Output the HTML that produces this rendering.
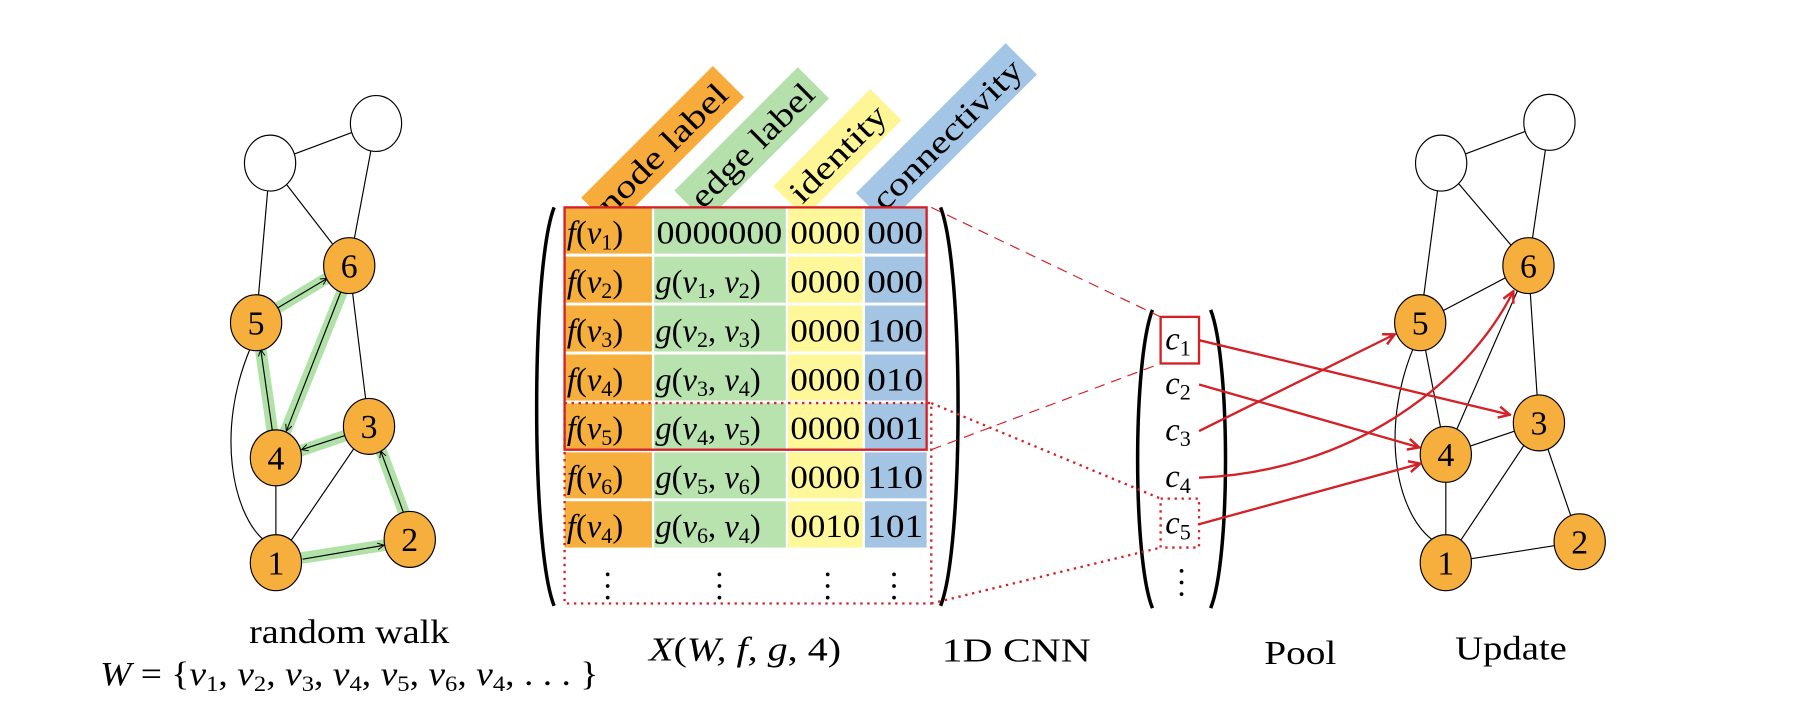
<!DOCTYPE html>
<html><head><meta charset="utf-8"><style>
html,body{margin:0;padding:0;background:#fff}
svg{display:block}
text{font-family:"Liberation Serif",serif;fill:#000}
.m{font-style:italic}
</style></head><body>
<svg width="1816" height="706" viewBox="0 0 1560 606" preserveAspectRatio="none" xmlns="http://www.w3.org/2000/svg">
<defs>
<marker id="ak" viewBox="0 0 10 10" refX="9" refY="5" markerWidth="7" markerHeight="7" orient="auto"><path d="M1,1 L9,5 L1,9" fill="none" stroke="#000" stroke-width="1.2"/></marker>
<marker id="ar" viewBox="0 0 10 10" refX="9" refY="5" markerWidth="6" markerHeight="6" orient="auto"><path d="M1,1 L9,5 L1,9" fill="none" stroke="#d42027" stroke-width="1.8"/></marker>
</defs>

<g stroke="#000" stroke-width="1" fill="none">
<line x1="232" y1="140" x2="323" y2="106"/>
<line x1="232" y1="140" x2="220" y2="277"/>
<line x1="232" y1="140" x2="300" y2="228"/>
<line x1="323" y1="106" x2="300" y2="228"/>
<line x1="300" y1="228" x2="317" y2="366"/>
<path d="M215,299 C185,370 200,440 226,463"/>
<line x1="237" y1="393" x2="237" y2="483"/>
<line x1="237" y1="483" x2="317" y2="366"/>
</g>
<g stroke="#7ccf6e" stroke-opacity="0.6" stroke-width="10" stroke-linecap="butt">
<line x1="259" y1="479" x2="330" y2="468"/>
<line x1="347" y1="440" x2="327" y2="386"/>
<line x1="296" y1="374" x2="258" y2="387"/>
<line x1="234" y1="370" x2="224" y2="300"/>
<line x1="239" y1="264" x2="282" y2="238"/>
<line x1="294" y1="250" x2="245" y2="371"/>
</g>
<g stroke="#000" stroke-width="1" marker-end="url(#ak)">
<line x1="260" y1="480" x2="330" y2="468"/>
<line x1="347" y1="441" x2="327" y2="387"/>
<line x1="296" y1="374" x2="259" y2="386"/>
<line x1="234" y1="370" x2="224" y2="300"/>
<line x1="239" y1="264" x2="281" y2="239"/>
<line x1="293" y1="250" x2="246" y2="370"/>
</g>
<g stroke="#000" stroke-width="1">
<ellipse cx="232" cy="140" rx="22" ry="24" fill="#fff"/>
<ellipse cx="323" cy="106" rx="22" ry="24" fill="#fff"/>
<ellipse cx="237" cy="483" rx="22" ry="24" fill="#f6ae3c"/>
<ellipse cx="352" cy="463" rx="22" ry="24" fill="#f6ae3c"/>
<ellipse cx="317" cy="366" rx="22" ry="24" fill="#f6ae3c"/>
<ellipse cx="237" cy="393" rx="22" ry="24" fill="#f6ae3c"/>
<ellipse cx="220" cy="277" rx="22" ry="24" fill="#f6ae3c"/>
<ellipse cx="300" cy="228" rx="22" ry="24" fill="#f6ae3c"/>
</g>
<g font-size="29" text-anchor="middle">
<text x="237" y="493">1</text><text x="352" y="473">2</text><text x="317" y="376">3</text>
<text x="237" y="403">4</text><text x="220" y="287">5</text><text x="300" y="238">6</text>
</g>

<g font-size="28">
<g transform="translate(524,186) rotate(-45)"><rect x="-6" y="-29" width="160" height="38" fill="#f6a630" opacity="0.95"/><text x="0" y="0" textLength="146" lengthAdjust="spacingAndGlyphs">node label</text></g>
<g transform="translate(604,180) rotate(-45)"><rect x="-6" y="-29" width="150" height="38" fill="#b5e0ac"/><text x="0" y="0" textLength="138" lengthAdjust="spacingAndGlyphs">edge label</text></g>
<g transform="translate(689,176) rotate(-45)"><rect x="-6" y="-29" width="118" height="38" fill="#fef690" opacity="0.95"/><text x="0" y="0" textLength="106" lengthAdjust="spacingAndGlyphs">identity</text></g>
<g transform="translate(760,182) rotate(-45)"><rect x="-6" y="-29" width="182" height="38" fill="#a4c6e6"/><text x="0" y="0" textLength="170" lengthAdjust="spacingAndGlyphs">connectivity</text></g>
</g>

<g>
<rect x="485" y="178" width="75" height="292" fill="#f6ae3c"/>
<rect x="562" y="178" width="113" height="292" fill="#b8e2ae"/>
<rect x="677" y="178" width="64" height="292" fill="#fef89a"/>
<rect x="743" y="178" width="53" height="292" fill="#a4c4e4"/>
<g stroke="#fff" stroke-width="2.5">
<line x1="485" y1="219" x2="796" y2="219"/><line x1="485" y1="261" x2="796" y2="261"/>
<line x1="485" y1="303" x2="796" y2="303"/><line x1="485" y1="345" x2="796" y2="345"/>
<line x1="485" y1="387" x2="796" y2="387"/><line x1="485" y1="429" x2="796" y2="429"/>
</g>
</g>
<g font-size="28">
<text x="487" y="209"><tspan class="m">f</tspan>(<tspan class="m">v</tspan><tspan font-size="19" dy="5">1</tspan><tspan dy="-5">)</tspan></text>
<text x="564" y="209" textLength="108" lengthAdjust="spacingAndGlyphs">0000000</text><text x="679" y="209" textLength="60" lengthAdjust="spacingAndGlyphs">0000</text><text x="745" y="209" textLength="48" lengthAdjust="spacingAndGlyphs">000</text>
<text x="487" y="251"><tspan class="m">f</tspan>(<tspan class="m">v</tspan><tspan font-size="19" dy="5">2</tspan><tspan dy="-5">)</tspan></text>
<text x="563" y="251"><tspan class="m">g</tspan>(<tspan class="m">v</tspan><tspan font-size="19" dy="5">1</tspan><tspan dy="-5">, </tspan><tspan class="m">v</tspan><tspan font-size="19" dy="5">2</tspan><tspan dy="-5">)</tspan></text>
<text x="679" y="251" textLength="60" lengthAdjust="spacingAndGlyphs">0000</text><text x="745" y="251" textLength="48" lengthAdjust="spacingAndGlyphs">000</text>
<text x="487" y="293"><tspan class="m">f</tspan>(<tspan class="m">v</tspan><tspan font-size="19" dy="5">3</tspan><tspan dy="-5">)</tspan></text>
<text x="563" y="293"><tspan class="m">g</tspan>(<tspan class="m">v</tspan><tspan font-size="19" dy="5">2</tspan><tspan dy="-5">, </tspan><tspan class="m">v</tspan><tspan font-size="19" dy="5">3</tspan><tspan dy="-5">)</tspan></text>
<text x="679" y="293" textLength="60" lengthAdjust="spacingAndGlyphs">0000</text><text x="745" y="293" textLength="48" lengthAdjust="spacingAndGlyphs">100</text>
<text x="487" y="335"><tspan class="m">f</tspan>(<tspan class="m">v</tspan><tspan font-size="19" dy="5">4</tspan><tspan dy="-5">)</tspan></text>
<text x="563" y="335"><tspan class="m">g</tspan>(<tspan class="m">v</tspan><tspan font-size="19" dy="5">3</tspan><tspan dy="-5">, </tspan><tspan class="m">v</tspan><tspan font-size="19" dy="5">4</tspan><tspan dy="-5">)</tspan></text>
<text x="679" y="335" textLength="60" lengthAdjust="spacingAndGlyphs">0000</text><text x="745" y="335" textLength="48" lengthAdjust="spacingAndGlyphs">010</text>
<text x="487" y="377"><tspan class="m">f</tspan>(<tspan class="m">v</tspan><tspan font-size="19" dy="5">5</tspan><tspan dy="-5">)</tspan></text>
<text x="563" y="377"><tspan class="m">g</tspan>(<tspan class="m">v</tspan><tspan font-size="19" dy="5">4</tspan><tspan dy="-5">, </tspan><tspan class="m">v</tspan><tspan font-size="19" dy="5">5</tspan><tspan dy="-5">)</tspan></text>
<text x="679" y="377" textLength="60" lengthAdjust="spacingAndGlyphs">0000</text><text x="745" y="377" textLength="48" lengthAdjust="spacingAndGlyphs">001</text>
<text x="487" y="419"><tspan class="m">f</tspan>(<tspan class="m">v</tspan><tspan font-size="19" dy="5">6</tspan><tspan dy="-5">)</tspan></text>
<text x="563" y="419"><tspan class="m">g</tspan>(<tspan class="m">v</tspan><tspan font-size="19" dy="5">5</tspan><tspan dy="-5">, </tspan><tspan class="m">v</tspan><tspan font-size="19" dy="5">6</tspan><tspan dy="-5">)</tspan></text>
<text x="679" y="419" textLength="60" lengthAdjust="spacingAndGlyphs">0000</text><text x="745" y="419" textLength="48" lengthAdjust="spacingAndGlyphs">110</text>
<text x="487" y="461"><tspan class="m">f</tspan>(<tspan class="m">v</tspan><tspan font-size="19" dy="5">4</tspan><tspan dy="-5">)</tspan></text>
<text x="563" y="461"><tspan class="m">g</tspan>(<tspan class="m">v</tspan><tspan font-size="19" dy="5">6</tspan><tspan dy="-5">, </tspan><tspan class="m">v</tspan><tspan font-size="19" dy="5">4</tspan><tspan dy="-5">)</tspan></text>
<text x="679" y="461" textLength="60" lengthAdjust="spacingAndGlyphs">0010</text><text x="745" y="461" textLength="48" lengthAdjust="spacingAndGlyphs">101</text>
</g>
<g fill="#000">
<circle cx="522" cy="493" r="1.6"/><circle cx="522" cy="503" r="1.6"/><circle cx="522" cy="513" r="1.6"/>
<circle cx="618" cy="493" r="1.6"/><circle cx="618" cy="503" r="1.6"/><circle cx="618" cy="513" r="1.6"/>
<circle cx="711" cy="493" r="1.6"/><circle cx="711" cy="503" r="1.6"/><circle cx="711" cy="513" r="1.6"/>
<circle cx="768" cy="493" r="1.6"/><circle cx="768" cy="503" r="1.6"/><circle cx="768" cy="513" r="1.6"/>
<circle cx="1015" cy="490" r="1.6"/><circle cx="1015" cy="500" r="1.6"/><circle cx="1015" cy="510" r="1.6"/>
</g>
<g fill="none" stroke="#000" stroke-width="3">
<path d="M476,178 C456,230 456,470 476,520"/>
<path d="M808,178 C828,230 828,470 808,520"/>
<path d="M990,266 C973,310 973,480 990,522"/>
<path d="M1040,266 C1057,310 1057,480 1040,522"/>
</g>
<rect x="485" y="178" width="311" height="208" fill="none" stroke="#d42027" stroke-width="2"/>
<rect x="485" y="346" width="315" height="172" fill="none" stroke="#d42027" stroke-width="2" stroke-dasharray="2,4"/>
<line x1="800" y1="178" x2="997" y2="272" stroke="#d42027" stroke-width="1" stroke-dasharray="9,6"/>
<line x1="800" y1="386" x2="997" y2="312" stroke="#d42027" stroke-width="1" stroke-dasharray="9,6"/>
<line x1="800" y1="346" x2="997" y2="428" stroke="#d42027" stroke-width="2" stroke-dasharray="2,4"/>
<line x1="800" y1="518" x2="997" y2="470" stroke="#d42027" stroke-width="2" stroke-dasharray="2,4"/>
<rect x="997" y="272" width="33" height="40" fill="none" stroke="#d42027" stroke-width="2"/>
<rect x="997" y="428" width="33" height="42" fill="none" stroke="#d42027" stroke-width="2" stroke-dasharray="2,4"/>
<g font-size="28">
<text x="1001" y="300"><tspan font-style="italic">c</tspan><tspan font-size="19" dy="5">1</tspan></text>
<text x="1001" y="338"><tspan font-style="italic">c</tspan><tspan font-size="19" dy="5">2</tspan></text>
<text x="1001" y="378"><tspan font-style="italic">c</tspan><tspan font-size="19" dy="5">3</tspan></text>
<text x="1001" y="418"><tspan font-style="italic">c</tspan><tspan font-size="19" dy="5">4</tspan></text>
<text x="1001" y="458"><tspan font-style="italic">c</tspan><tspan font-size="19" dy="5">5</tspan></text>
</g>

<g stroke="#000" stroke-width="1" fill="none">
<line x1="1238" y1="140" x2="1331" y2="105"/>
<line x1="1238" y1="140" x2="1220" y2="277"/>
<line x1="1238" y1="140" x2="1313" y2="228"/>
<line x1="1331" y1="105" x2="1313" y2="228"/>
<line x1="1220" y1="277" x2="1313" y2="228"/>
<line x1="1220" y1="277" x2="1242" y2="390"/>
<line x1="1242" y1="390" x2="1313" y2="228"/>
<line x1="1313" y1="228" x2="1322" y2="363"/>
<line x1="1242" y1="390" x2="1322" y2="363"/>
<line x1="1242" y1="390" x2="1242" y2="483"/>
<line x1="1242" y1="483" x2="1322" y2="363"/>
<line x1="1322" y1="363" x2="1357" y2="465"/>
<line x1="1242" y1="483" x2="1357" y2="465"/>
<path d="M1214,299 C1185,370 1200,440 1230,463"/>
</g>
<g stroke="#000" stroke-width="1">
<ellipse cx="1238" cy="140" rx="22" ry="24" fill="#fff"/>
<ellipse cx="1331" cy="105" rx="22" ry="24" fill="#fff"/>
<ellipse cx="1242" cy="483" rx="22" ry="24" fill="#f6ae3c"/>
<ellipse cx="1357" cy="465" rx="22" ry="24" fill="#f6ae3c"/>
<ellipse cx="1322" cy="363" rx="22" ry="24" fill="#f6ae3c"/>
<ellipse cx="1242" cy="390" rx="22" ry="24" fill="#f6ae3c"/>
<ellipse cx="1220" cy="277" rx="22" ry="24" fill="#f6ae3c"/>
<ellipse cx="1313" cy="228" rx="22" ry="24" fill="#f6ae3c"/>
</g>
<g font-size="29" text-anchor="middle">
<text x="1242" y="493">1</text><text x="1357" y="475">2</text><text x="1322" y="373">3</text>
<text x="1242" y="400">4</text><text x="1220" y="287">5</text><text x="1313" y="238">6</text>
</g>
<g stroke="#d42027" stroke-width="2" fill="none" marker-end="url(#ar)">
<line x1="1030" y1="292" x2="1297" y2="356"/>
<line x1="1030" y1="330" x2="1219" y2="384"/>
<line x1="1030" y1="370" x2="1198" y2="287"/>
<path d="M1030,410 C1160,405 1260,330 1300,250"/>
<line x1="1030" y1="450" x2="1220" y2="398"/>
</g>

<g font-size="29" text-anchor="middle">
<text x="300" y="552" textLength="172" lengthAdjust="spacingAndGlyphs">random walk</text>
<text x="300" y="588" textLength="428" lengthAdjust="spacingAndGlyphs"><tspan class="m">W</tspan> = {<tspan class="m">v</tspan><tspan font-size="19" dy="5">1</tspan><tspan dy="-5">, </tspan><tspan class="m">v</tspan><tspan font-size="19" dy="5">2</tspan><tspan dy="-5">, </tspan><tspan class="m">v</tspan><tspan font-size="19" dy="5">3</tspan><tspan dy="-5">, </tspan><tspan class="m">v</tspan><tspan font-size="19" dy="5">4</tspan><tspan dy="-5">, </tspan><tspan class="m">v</tspan><tspan font-size="19" dy="5">5</tspan><tspan dy="-5">, </tspan><tspan class="m">v</tspan><tspan font-size="19" dy="5">6</tspan><tspan dy="-5">, </tspan><tspan class="m">v</tspan><tspan font-size="19" dy="5">4</tspan><tspan dy="-5">, . . . }</tspan></text>
<text x="640" y="567" textLength="165" lengthAdjust="spacingAndGlyphs"><tspan class="m">X</tspan>(<tspan class="m">W, f, g</tspan>, 4)</text>
<text x="873" y="568" textLength="128" lengthAdjust="spacingAndGlyphs">1D CNN</text>
<text x="1117" y="570" textLength="62" lengthAdjust="spacingAndGlyphs">Pool</text>
<text x="1298" y="566" textLength="96" lengthAdjust="spacingAndGlyphs">Update</text>
</g>
</svg>
</body></html>
